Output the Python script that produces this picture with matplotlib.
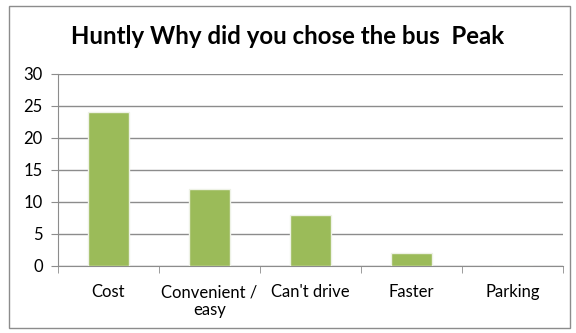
import matplotlib.pyplot as plt
from matplotlib.patches import Rectangle

# chart data
categories = ["Cost", "Convenient /\neasy", "Can't drive", "Faster", "Parking"]
counts = [24, 12, 8, 2, 0]
y_ticks = [0, 5, 10, 15, 20, 25, 30]

plt.rcParams['font.family'] = ['Lato', 'DejaVu Sans']

fig = plt.figure(figsize=(5.76, 3.33), dpi=100)
fig.patch.set_facecolor('white')
# outer chart frame
fig.patches.append(Rectangle((9/576, 5/333), 561/576, 322/333, transform=fig.transFigure,
                             fill=False, edgecolor='#8c8c8c', linewidth=1.0))

ax = fig.add_axes([58/576, (333-266)/333, (563-58)/576, (266-74)/333])
x = list(range(len(categories)))
ax.bar(x, counts, width=0.4, color='#9bbb59', edgecolor='#eef2e6', linewidth=1.0, zorder=3)

ax.set_xlim(-0.5, len(categories) - 0.5)
ax.set_ylim(0, 30)
ax.set_yticks(y_ticks)
ax.set_yticklabels([str(v) for v in y_ticks], fontsize=12)
ax.set_xticks(x)
ax.set_xticklabels(categories, fontsize=12, linespacing=1.15)
ax.tick_params(axis='x', length=0, pad=13)
ax.tick_params(axis='y', length=5, color='#8c8c8c', pad=6, direction='out')
# category separator ticks below the axis
ax.set_xticks([i - 0.5 for i in range(len(categories) + 1)], minor=True)
ax.tick_params(axis='x', which='minor', length=5, color='#8c8c8c', direction='out')

ax.grid(axis='y', color='#8c8c8c', linewidth=1.0, zorder=0)
for side in ['top', 'right']:
    ax.spines[side].set_visible(False)
ax.spines['left'].set_color('#8c8c8c')
ax.spines['bottom'].set_color('#8c8c8c')

fig.text(0.5, (333-36)/333, "Huntly Why did you chose the bus  Peak", ha='center', va='center',
         fontsize=17.3, fontweight='bold')

fig.savefig('out.png', dpi=100)
